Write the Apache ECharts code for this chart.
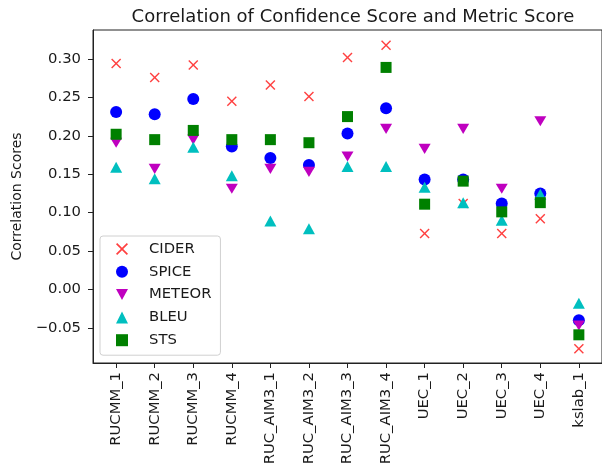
<!DOCTYPE html>
<html>
<head>
<meta charset="utf-8">
<script src="https://cdn.jsdelivr.net/npm/echarts@6/dist/echarts.min.js"></script>
<style>
  html, body { margin: 0; padding: 0; background: #fff; }
  #chart { width: 602px; height: 471px; }
</style>
</head>
<body>
<div id="chart"></div>
<script>
// Team submissions (x axis)
const categories = ['RUCMM_1', 'RUCMM_2', 'RUCMM_3', 'RUCMM_4',
  'RUC_AIM3_1', 'RUC_AIM3_2', 'RUC_AIM3_3', 'RUC_AIM3_4',
  'UEC_1', 'UEC_2', 'UEC_3', 'UEC_4', 'kslab_1'];

// Correlation of confidence score with each metric
const cider  = [0.294, 0.276, 0.292, 0.245, 0.266, 0.251, 0.302, 0.318, 0.073, 0.112, 0.073, 0.092, -0.077];
const spice  = [0.231, 0.228, 0.248, 0.186, 0.171, 0.162, 0.203, 0.236, 0.143, 0.143, 0.112, 0.125, -0.040];
const meteor = [0.191, 0.157, 0.195, 0.131, 0.157, 0.153, 0.173, 0.209, 0.183, 0.209, 0.131, 0.219, -0.047];
const bleu   = [0.159, 0.144, 0.185, 0.148, 0.089, 0.079, 0.160, 0.160, 0.133, 0.113, 0.090, 0.124, -0.018];
const sts    = [0.202, 0.195, 0.207, 0.195, 0.195, 0.191, 0.225, 0.289, 0.111, 0.141, 0.101, 0.113, -0.059];

// Tick values
const yTicks = [-0.05, 0.00, 0.05, 0.10, 0.15, 0.20, 0.25, 0.30];
const xTicks = categories.map((_, i) => i);

const FONT = 'DejaVu Sans';
const TEXT = '#1a1a1a';
const FS = 14.8;
// Marker shapes: an "x" cross and a downward-pointing triangle
const X_MARK = 'path://M0,1L1,0L5,4L9,0L10,1L6,5L10,9L9,10L5,6L1,10L0,9L4,5Z';
const TRI_DOWN = 'path://M0,0L12,0L6,11Z';

const pts = arr => arr.map((v, i) => [i, v]);

function scatter(name, data, symbol, size, color) {
  return {
    name: name,
    type: 'scatter',
    data: pts(data),
    symbol: symbol,
    symbolSize: size,
    symbolKeepAspect: true,
    itemStyle: { color: color, opacity: 1 },
    emphasis: { disabled: true },
    animation: false
  };
}

const chart = echarts.init(document.getElementById('chart'), null, { renderer: 'canvas' });

chart.setOption({
  backgroundColor: '#fff',
  title: {
    text: 'Correlation of Confidence Score and Metric Score',
    left: 348,
    top: 3,
    textAlign: 'center',
    textStyle: { fontFamily: FONT, fontSize: 18, fontWeight: 'normal', color: TEXT }
  },
  grid: {
    left: 93, top: 30, right: -3, bottom: 108,
    show: true, borderColor: '#222', borderWidth: 1, backgroundColor: 'transparent'
  },
  legend: {
    orient: 'vertical',
    left: 100, top: 236,
    padding: [5, 9, 7, 16],
    itemWidth: 12, itemHeight: 12,
    itemGap: 6.8,
    symbolKeepAspect: true,
    backgroundColor: 'rgba(255,255,255,0.8)',
    borderColor: '#d0d0d0', borderWidth: 1, borderRadius: 3,
    textStyle: { fontFamily: FONT, fontSize: FS, color: TEXT, lineHeight: 16, padding: [0, 0, 0, 16] },
    data: ['CIDER', 'SPICE', 'METEOR', 'BLEU', 'STS']
  },
  xAxis: {
    type: 'value',
    min: -0.6, max: 12.6,
    splitLine: { show: false },
    axisLine: { show: true, onZero: false, lineStyle: { color: '#222', width: 1 } },
    axisTick: { show: true, length: 5, customValues: xTicks, lineStyle: { color: '#222' } },
    axisLabel: {
      customValues: xTicks,
      rotate: 90,
      margin: 9,
      fontFamily: FONT, fontSize: FS, color: TEXT,
      formatter: v => categories[Math.round(v)] || ''
    }
  },
  yAxis: {
    type: 'value',
    min: -0.0957, max: 0.3377,
    name: 'Correlation Scores',
    nameLocation: 'middle',
    nameRotate: 90,
    nameGap: 68,
    nameTextStyle: { fontFamily: FONT, fontSize: 14, color: TEXT },
    splitLine: { show: false },
    axisLine: { show: true, onZero: false, lineStyle: { color: '#222', width: 1 } },
    axisTick: { show: true, length: 5, customValues: yTicks, lineStyle: { color: '#222' } },
    axisLabel: {
      customValues: yTicks,
      margin: 12,
      fontFamily: FONT, fontSize: FS, color: TEXT,
      formatter: v => (v < 0 ? '\u2212' : '') + Math.abs(v).toFixed(2)
    }
  },
  series: [
    scatter('CIDER', cider, X_MARK, 10, 'rgba(255,0,0,0.75)'),
    scatter('SPICE', spice, 'circle', 12, '#0000ff'),
    scatter('METEOR', meteor, TRI_DOWN, [12, 11], '#bf00bf'),
    scatter('BLEU', bleu, 'triangle', [12, 11], '#00bfbf'),
    scatter('STS', sts, 'rect', 11, '#008000')
  ]
});
</script>
</body>
</html>
